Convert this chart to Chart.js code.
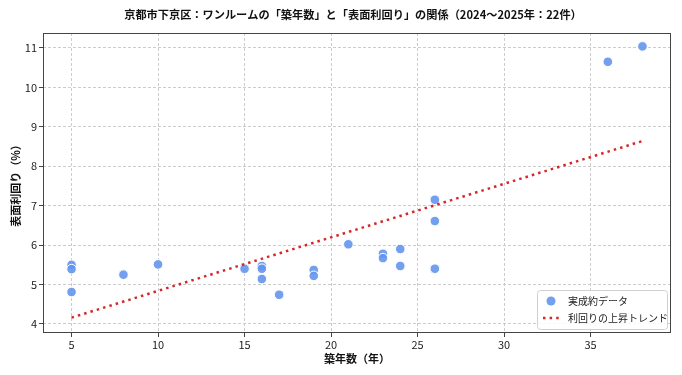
<!doctype html>
<html lang="ja">
  <head>
    <meta charset="utf-8">
    <title>京都市下京区 ワンルーム 築年数と表面利回り</title>
    <style>
      * {
        margin: 0;
        padding: 0;
      }
      body {
        background: #ffffff;
      }
      .chartBox {
        width: 682px;
        height: 375px;
      }
    </style>
  </head>
  <body>
    <div class="chartBox">
      <canvas id="myChart"></canvas>
    </div>
    <script src="https://cdn.jsdelivr.net/npm/chart.js"></script>
    <script>
    // data
    const ages = [5, 5, 5, 8, 10, 15, 16, 16, 16, 17, 19, 19, 21, 23, 23, 24, 24, 26, 26, 26, 36, 38];
    const yields = [5.50, 5.39, 4.81, 5.25, 5.51, 5.40, 5.47, 5.40, 5.14, 4.74, 5.37, 5.22, 6.02, 5.78, 5.67, 5.90, 5.47, 7.15, 6.61, 5.40, 10.65, 11.04];
    const trendX = [5, 38];
    const trendY = [4.16, 8.64];
    const xTicks = [5, 10, 15, 20, 25, 30, 35];
    const yTicks = [4, 5, 6, 7, 8, 9, 10, 11];
    const titleText = '京都市下京区：ワンルームの「築年数」と「表面利回り」の関係（2024〜2025年：22件）';

    const FONT = "'Noto Sans CJK JP', 'Noto Sans', sans-serif";
    const BLUE = 'rgba(100,149,237,0.9)';
    const RED = '#d62728';

    // title over the axes, box around the plot, legend in the lower right corner
    const frameAndLegend = {
      id: 'frameAndLegend',
      afterDraw(chart) {
        const {ctx, chartArea: a} = chart;
        ctx.save();
        ctx.font = 'bold 11.2px ' + FONT;
        ctx.fillStyle = '#111';
        ctx.textAlign = 'center';
        ctx.textBaseline = 'middle';
        ctx.fillText(titleText, (a.left + a.right) / 2 - 4, 15);
        ctx.textAlign = 'left';

        ctx.strokeStyle = '#444';
        ctx.lineWidth = 1;
        ctx.strokeRect(a.left + 0.5, a.top + 0.5, a.right - a.left - 1, a.bottom - a.top - 1);

        const w = 130, h = 39;
        const x = a.right - w - 4, y = a.bottom - h - 4;
        ctx.fillStyle = 'rgba(255,255,255,0.85)';
        ctx.strokeStyle = '#d0d0d0';
        ctx.beginPath();
        ctx.roundRect(x + 0.5, y + 0.5, w, h, 3);
        ctx.fill();
        ctx.stroke();

        const ds = chart.data.datasets;
        ctx.font = '10px ' + FONT;
        // scatter row
        ctx.beginPath();
        ctx.arc(x + 14, y + 11, 4.5, 0, Math.PI * 2);
        ctx.fillStyle = BLUE;
        ctx.fill();
        ctx.fillStyle = '#222';
        ctx.fillText(ds[0].label, x + 31, y + 11);
        // line row
        ctx.strokeStyle = RED;
        ctx.lineWidth = 2.5;
        ctx.setLineDash([2.5, 4.1]);
        ctx.beginPath();
        ctx.moveTo(x + 6, y + 28);
        ctx.lineTo(x + 24, y + 28);
        ctx.stroke();
        ctx.setLineDash([]);
        ctx.fillText(ds[1].label, x + 31, y + 28);
        ctx.restore();
      }
    };

    const data = {
      datasets: [{
        type: 'scatter',
        label: '実成約データ',
        data: ages.map((a, i) => ({x: a, y: yields[i]})),
        backgroundColor: BLUE,
        borderColor: '#ffffff',
        borderWidth: 1,
        pointRadius: 4.8,
        order: 1
      }, {
        type: 'line',
        label: '利回りの上昇トレンド',
        data: trendX.map((a, i) => ({x: a, y: trendY[i]})),
        borderColor: RED,
        borderWidth: 2.5,
        borderDash: [2.5, 4.1],
        pointRadius: 0,
        fill: false,
        order: 0
      }]
    };

    const config = {
      data,
      options: {
        responsive: true,
        maintainAspectRatio: false,
        animation: false,
        layout: {
          padding: {left: 0, right: 11, top: 33, bottom: 10}
        },
        plugins: {
          legend: {display: false},
          tooltip: {enabled: false},
          title: {display: false}
        },
        scales: {
          x: {
            type: 'linear',
            min: 3.35,
            max: 39.65,
            afterBuildTicks: s => { s.ticks = xTicks.map(v => ({value: v})); },
            afterFit: s => { s.height = 32; },
            ticks: {color: '#222', font: {family: FONT, size: 11}, padding: 1},
            grid: {color: '#cccccc', tickColor: '#444', tickLength: 4, tickBorderDash: []},
            border: {display: false, dash: [3, 2]},
            title: {
              display: true,
              text: '築年数（年）',
              color: '#111',
              font: {family: FONT, size: 11, weight: 'bold'},
              padding: {top: 0, bottom: 0}
            }
          },
          y: {
            type: 'linear',
            min: 3.77,
            max: 11.38,
            afterBuildTicks: s => { s.ticks = yTicks.map(v => ({value: v})); },
            afterFit: s => { s.width = 43; },
            ticks: {color: '#222', font: {family: FONT, size: 11}, padding: 2},
            grid: {color: '#cccccc', tickColor: '#444', tickLength: 4, tickBorderDash: []},
            border: {display: false, dash: [3, 2]},
            title: {
              display: true,
              text: '表面利回り（%）',
              color: '#111',
              font: {family: FONT, size: 11, weight: 'bold'},
              padding: {top: 9, bottom: 2}
            }
          }
        }
      },
      plugins: [frameAndLegend]
    };

    const myChart = new Chart(document.getElementById('myChart'), config);
    </script>
  </body>
</html>
